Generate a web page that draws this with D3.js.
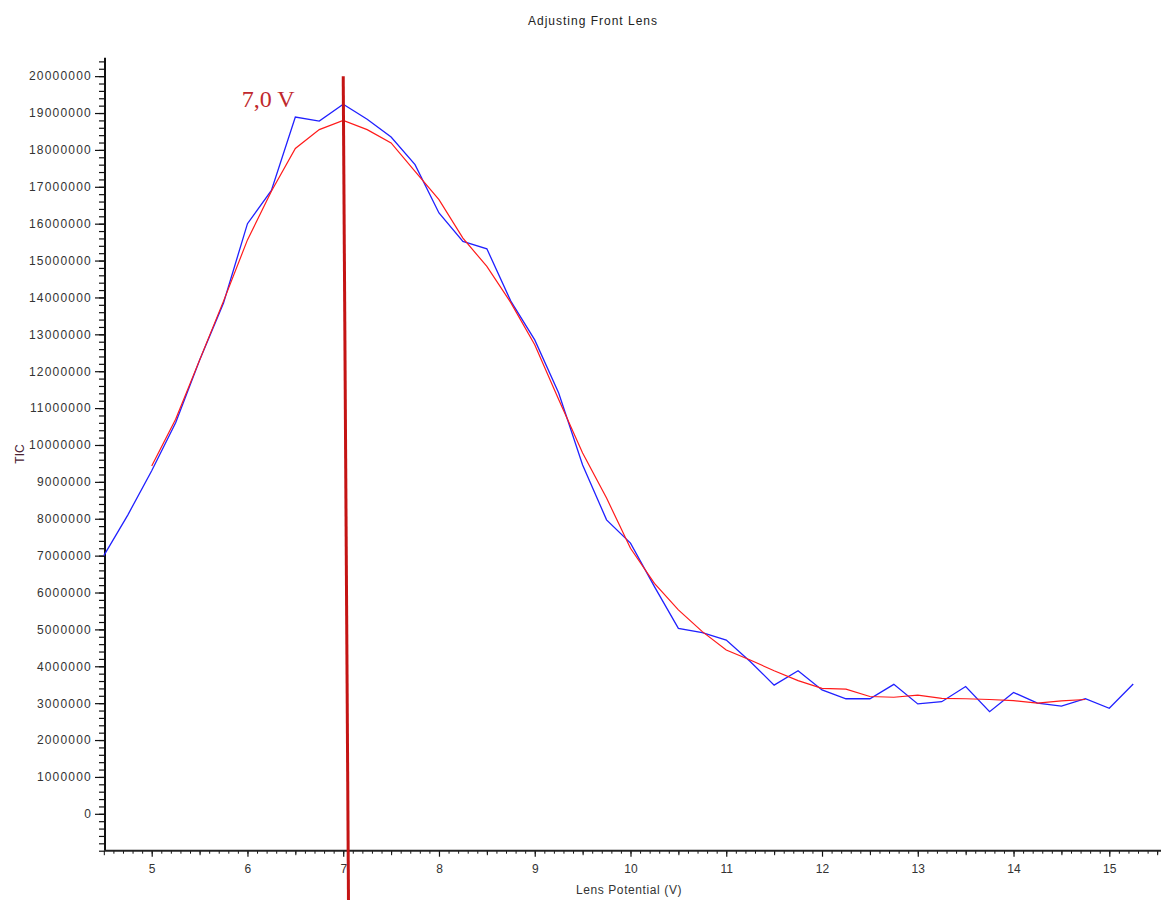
<!DOCTYPE html>
<html>
<head>
<meta charset="utf-8">
<script src="https://cdn.jsdelivr.net/npm/d3@7"></script>
<style>
  html, body { margin: 0; padding: 0; background: #fff; }
  svg { display: block; }
</style>
</head>
<body>
<div id="chart"></div>
<script>
// ---- data ----
const title = "Adjusting Front Lens";
const xLabel = "Lens Potential (V)";
const yLabel = "TIC";

// measured TIC (blue), 0.25 V steps from 4.5 V to 15.25 V
const measuredStart = 4.5;
const measuredStep = 0.25;
const measuredTIC = [
  7.00e6, 8.10e6, 9.30e6, 10.60e6, 12.30e6, 13.85e6, 16.00e6, 16.90e6,
  18.89e6, 18.78e6, 19.24e6, 18.83e6, 18.35e6, 17.60e6, 16.29e6, 15.52e6,
  15.32e6, 13.90e6, 12.85e6, 11.41e6, 9.46e6, 7.97e6, 7.34e6, 6.16e6,
  5.03e6, 4.91e6, 4.71e6, 4.13e6, 3.49e6, 3.88e6, 3.36e6, 3.12e6,
  3.12e6, 3.51e6, 2.98e6, 3.04e6, 3.45e6, 2.77e6, 3.29e6, 3.00e6,
  2.92e6, 3.12e6, 2.86e6, 3.52e6
];

// smoothed TIC (red), 0.25 V steps from 5.0 V to 14.75 V
const smoothStart = 5.0;
const smoothStep = 0.25;
const smoothTIC = [
  9.43e6, 10.70e6, 12.30e6, 13.90e6, 15.56e6, 16.88e6, 18.04e6, 18.55e6,
  18.80e6, 18.55e6, 18.19e6, 17.42e6, 16.65e6, 15.61e6, 14.84e6, 13.86e6,
  12.72e6, 11.23e6, 9.78e6, 8.56e6, 7.20e6, 6.25e6, 5.53e6, 4.94e6,
  4.44e6, 4.17e6, 3.88e6, 3.61e6, 3.40e6, 3.38e6, 3.18e6, 3.16e6,
  3.22e6, 3.13e6, 3.12e6, 3.10e6, 3.07e6, 3.00e6, 3.06e6, 3.10e6
];

// optimum marker
const markerLabel = "7,0 V";
const markerTop = [7.0, 20.0e6];
const markerBottom = [7.055, -2.35e6];
const markerLabelPos = [5.94, 19.16e6];

// axis ticks
const yMajorTicks = d3.range(0, 20e6 + 1, 1e6);
const yMinorTicks = d3.range(-1e6, 20.5e6 + 1, 2e5);
const xMajorTicks = d3.range(5, 16, 1);
const xMinorTicks = d3.range(46, 156, 1).map(d => d / 10);
const xMidTicks = d3.range(45, 156, 10).map(d => d / 10);

const measured = measuredTIC.map((v, i) => ({x: measuredStart + i * measuredStep, y: v}));
const smooth = smoothTIC.map((v, i) => ({x: smoothStart + i * smoothStep, y: v}));

// ---- layout ----
const W = 1161, H = 900;
const sans = "'Liberation Sans', Arial, sans-serif";
const serif = "'Liberation Serif', 'Times New Roman', serif";
const x = d3.scaleLinear().domain([4.5123, 15.54]).range([105, 1161]);
const y = d3.scaleLinear().domain([-1e6, 20.5e6]).range([850.7, 57.7]);

const svg = d3.select("#chart").append("svg").attr("width", W).attr("height", H);

// title
svg.append("text")
  .attr("x", 593).attr("y", 25)
  .attr("text-anchor", "middle")
  .style("font-family", sans).style("font-size", "12px").style("letter-spacing", "1px")
  .attr("fill", "#222")
  .text(title);

// y axis
const yAxisG = svg.append("g").attr("transform", "translate(105,0)");
yAxisG.append("g")
  .call(d3.axisLeft(y).tickValues(yMinorTicks).tickSize(6).tickFormat(""))
  .call(g => g.select(".domain").remove())
  .call(g => g.selectAll("line").attr("stroke", "#111").attr("stroke-width", 1.2));
yAxisG.append("g")
  .call(d3.axisLeft(y).tickValues(yMajorTicks).tickSize(10).tickPadding(3).tickFormat(d3.format("d")))
  .call(g => g.select(".domain").remove())
  .call(g => g.selectAll("line").attr("stroke", "#111").attr("stroke-width", 1.2))
  .call(g => g.selectAll("text")
    .style("font-family", sans).style("font-size", "12px").style("letter-spacing", "1.2px")
    .attr("fill", "#333"));
yAxisG.append("line")
  .attr("x1", 0).attr("x2", 0)
  .attr("y1", y(20.5e6)).attr("y2", y(-1e6))
  .attr("stroke", "#111").attr("stroke-width", 2);

// x axis
const xAxisG = svg.append("g").attr("transform", "translate(0," + y(-1e6) + ")");
xAxisG.append("g")
  .call(d3.axisBottom(x).tickValues(xMinorTicks).tickSize(3).tickFormat(""))
  .call(g => g.select(".domain").remove())
  .call(g => g.selectAll("line").attr("stroke", "#111"));
xAxisG.append("g")
  .call(d3.axisBottom(x).tickValues(xMidTicks).tickSize(4.5).tickFormat(""))
  .call(g => g.select(".domain").remove())
  .call(g => g.selectAll("line").attr("stroke", "#111"));
xAxisG.append("g")
  .call(d3.axisBottom(x).tickValues(xMajorTicks).tickSize(6).tickPadding(8).tickFormat(d3.format("d")))
  .call(g => g.select(".domain").remove())
  .call(g => g.selectAll("line").attr("stroke", "#111").attr("stroke-width", 1.2))
  .call(g => g.selectAll("text")
    .style("font-family", sans).style("font-size", "12px")
    .attr("fill", "#333"));
xAxisG.append("line")
  .attr("x1", x.range()[0]).attr("x2", x.range()[1])
  .attr("y1", 0).attr("y2", 0)
  .attr("stroke", "#222").attr("stroke-width", 2);

// axis titles
svg.append("text")
  .attr("x", 629).attr("y", 894)
  .attr("text-anchor", "middle")
  .style("font-family", sans).style("font-size", "12px").style("letter-spacing", "0.6px")
  .attr("fill", "#333")
  .text(xLabel);
svg.append("text")
  .attr("transform", "translate(24,454) rotate(-90)")
  .attr("text-anchor", "middle")
  .style("font-family", sans).style("font-size", "12px")
  .attr("fill", "#4a2233")
  .text(yLabel);

// lines
const line = d3.line().x(d => x(d.x)).y(d => y(d.y));
svg.append("path").datum(measured)
  .attr("d", line).attr("fill", "none")
  .attr("stroke", "#2020ff").attr("stroke-width", 1.3);
svg.append("path").datum(smooth)
  .attr("d", line).attr("fill", "none")
  .attr("stroke", "#ff1a1a").attr("stroke-width", 1.2);

// marker
svg.append("line")
  .attr("x1", x(markerTop[0])).attr("y1", y(markerTop[1]))
  .attr("x2", x(markerBottom[0])).attr("y2", y(markerBottom[1]))
  .attr("stroke", "#c41414").attr("stroke-width", 3);
svg.append("text")
  .attr("x", x(markerLabelPos[0])).attr("y", y(markerLabelPos[1]))
  .style("font-family", serif).style("font-size", "24px")
  .attr("fill", "#c0282d")
  .text(markerLabel);
</script>
</body>
</html>
